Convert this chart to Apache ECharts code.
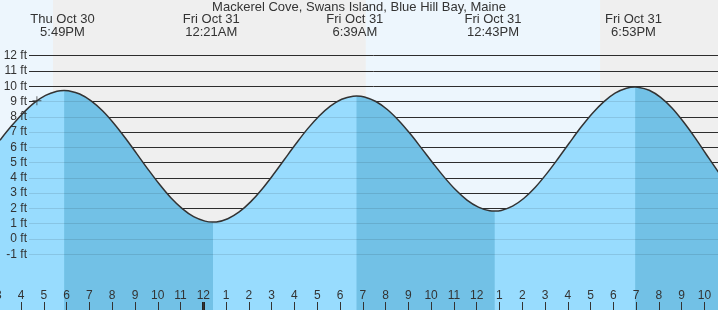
<!DOCTYPE html>
<html><head><meta charset="utf-8">
<script src="https://cdn.jsdelivr.net/npm/echarts@6/dist/echarts.min.js"></script>
<style>html,body{margin:0;padding:0;background:#efefef}#c{width:718px;height:310px}</style>
</head><body><div id="c"></div>
<script>
// ---- data (hours relative to Fri Oct 31 00:00) ----
const chartTitle = 'Mackerel Cove, Swans Island, Blue Hill Bay, Maine';
const sampleTimes = [-9,-8.5,-8,-7.5,-7,-6.5,-6,-5.5,-5,-4.5,-4,-3.5,-3,-2.5,-2,-1.5,-1,-0.5,
  0,0.5,1,1.5,2,2.5,3,3.5,4,4.5,5,5.5,6,6.5,7,7.5,8,8.5,9,9.5,10,10.5,11,11.5,12,12.5,
  13,13.5,14,14.5,15,15.5,16,16.5,17,17.5,18,18.5,19,19.5,20,20.5,21,21.5,22,22.5,23];
const sampleHeights = [6.47,7.39,8.22,8.91,9.40,9.67,9.70,9.49,9.04,8.39,7.56,6.61,5.59,4.56,3.58,2.70,1.99,1.46,
  1.17,1.12,1.33,1.77,2.43,3.26,4.22,5.24,6.25,7.21,8.04,8.70,9.15,9.35,9.30,9.00,8.48,7.76,6.90,5.95,4.98,4.05,3.22,2.55,2.09,1.85,
  1.87,2.15,2.67,3.39,4.28,5.27,6.30,7.31,8.22,8.98,9.55,9.87,9.94,9.74,9.27,8.57,7.67,6.65,5.55,4.46,3.43];
const extremeTimes = [-6.1833, 0.35, 6.65, 12.7167, 18.8833];
const extremeHeights = [9.72, 1.11, 9.36, 1.83, 9.95];
const extremeDays = ['Thu Oct 30', 'Fri Oct 31', 'Fri Oct 31', 'Fri Oct 31', 'Fri Oct 31'];
const extremeClock = ['5:49PM', '12:21AM', '6:39AM', '12:43PM', '6:53PM'];
const dayStarts = [-12, 7.133];
const dayEnds = [-6.6, 17.417];
const footLevels = [12, 11, 10, 9, 8, 7, 6, 5, 4, 3, 2, 1, 0, -1];
const nowTime = -7.38, nowHeight = 9.05;
const axisMin = -9, axisMax = 23;

// ---- build ----
const points = sampleTimes.map((t, i) => [t, sampleHeights[i]])
  .concat(extremeTimes.map((t, i) => [t, extremeHeights[i]]))
  .sort((a, b) => a[0] - b[0]);
const falling = [];
extremeTimes.forEach((t, i) => {
  const next = extremeTimes[i + 1];
  const isHigh = (i + 1 < extremeHeights.length) ? extremeHeights[i] > extremeHeights[i + 1] : extremeHeights[i] > extremeHeights[i - 1];
  if (isHigh) falling.push([t, next !== undefined ? next : axisMax]);
});
const inFalling = t => falling.some(s => t >= s[0] && t <= s[1]);
const darkPoints = points.map(p => inFalling(p[0]) ? p : [p[0], null]);

function hourLabel(v) {
  const h = ((Math.round(v) % 24) + 24) % 24;
  const h12 = h % 12 === 0 ? 12 : h % 12;
  return String(h12);
}
const FONT = 'Liberation Sans, Arial, sans-serif';
const SMOOTH = 0.35;
const lineMark = (color, width, z) => ({
  silent: true, z: z, symbol: ['none', 'none'], label: { show: false }, animation: false,
  lineStyle: { color: color, width: width, type: 'solid' },
  emphasis: { disabled: true }
});

const chart = echarts.init(document.getElementById('c'), null, { renderer: 'canvas' });
chart.setOption({
  backgroundColor: '#efefef',
  animation: false,
  textStyle: { fontFamily: FONT },
  title: {
    text: chartTitle, left: 'center', top: 1, padding: 0,
    textStyle: { fontSize: 13, fontWeight: 'normal', color: '#333', fontFamily: FONT }
  },
  grid: [
    { left: 0, right: -10.96, top: -5.43, bottom: -5.4, containLabel: false, outerBoundsMode: 'none' },
    { left: -1.7, right: -9.26, top: 0, bottom: 0, containLabel: false, outerBoundsMode: 'none' }
  ],
  xAxis: [
    { gridIndex: 0, type: 'value', min: axisMin, max: axisMax, show: false },
    { gridIndex: 1, type: 'value', min: axisMin, max: axisMax, interval: 1, z: 10,
      axisLine: { show: false }, splitLine: { show: false },
      axisTick: { show: true, inside: true, length: 8, lineStyle: { color: '#333', width: 1 } },
      axisLabel: { inside: true, margin: 8, fontSize: 12, color: '#333', fontFamily: FONT, formatter: hourLabel } }
  ],
  yAxis: [
    { gridIndex: 0, type: 'value', min: -5, max: 16, interval: 1, z: 10,
      axisLine: { show: false }, axisTick: { show: false }, splitLine: { show: false },
      axisLabel: { inside: true, align: 'right', margin: 27, fontSize: 12, color: '#333', fontFamily: FONT,
        formatter: v => (v >= -1 && v <= 12) ? v + ' ft' : '' } },
    { gridIndex: 1, type: 'value', min: 0, max: 1, show: false }
  ],
  series: [
    { type: 'line', xAxisIndex: 1, yAxisIndex: 1, data: [], z: 0, silent: true,
      markArea: { silent: true, z: 0, itemStyle: { color: '#edf6fd' },
        data: dayStarts.map((s, i) => [{ xAxis: s }, { xAxis: dayEnds[i] }]) } },
    { type: 'line', xAxisIndex: 0, yAxisIndex: 0, data: [], z: 1, silent: true,
      markLine: Object.assign(lineMark('#333', 1, 1), {
        data: footLevels.map(v => [{ x: 29, yAxis: v }, { x: 718, yAxis: v }]) }) },
    { type: 'line', xAxisIndex: 0, yAxisIndex: 0, data: points, z: 2, silent: true, smooth: SMOOTH,
      symbol: 'none', showSymbol: false, lineStyle: { width: 0 },
      areaStyle: { color: '#98dcfe', opacity: 1, origin: 'start' } },
    { type: 'line', xAxisIndex: 0, yAxisIndex: 0, data: darkPoints, z: 2, silent: true, smooth: SMOOTH,
      symbol: 'none', showSymbol: false, lineStyle: { width: 0 }, connectNulls: false,
      areaStyle: { color: '#72c1e6', opacity: 1, origin: 'start' } },
    { type: 'line', xAxisIndex: 0, yAxisIndex: 0, data: [], z: 3, silent: true,
      markLine: Object.assign(lineMark('rgba(0,0,0,0.1)', 1, 3), {
        data: footLevels.map(v => [{ x: 29, yAxis: v }, { x: 718, yAxis: v }]) }) },
    { type: 'line', xAxisIndex: 0, yAxisIndex: 0, data: points, z: 4, silent: true, smooth: SMOOTH,
      symbol: 'none', showSymbol: false, lineStyle: { color: '#333', width: 1.5 } },
    { type: 'scatter', xAxisIndex: 0, yAxisIndex: 0, data: [[nowTime, nowHeight]], z: 5, silent: true,
      symbol: 'path://M0,4.5H10V5.5H0Z M4.5,0H5.5V10H4.5Z', symbolSize: 9,
      itemStyle: { color: '#333' } },
    { type: 'line', xAxisIndex: 1, yAxisIndex: 1, data: [], z: 6, silent: true,
      markLine: Object.assign(lineMark('#222', 3, 6), {
        data: [[{ xAxis: 0, y: 302 }, { xAxis: 0, y: 310 }]] }),
      markPoint: { silent: true, z: 6, symbol: 'circle', symbolSize: 0, animation: false,
        label: { show: true, position: 'inside', fontSize: 13, lineHeight: 13, color: '#333', fontFamily: FONT },
        data: extremeTimes.map((t, i) => ({ xAxis: t, y: 26,
          label: { formatter: extremeDays[i] + '\n' + extremeClock[i] } })) } }
  ]
});
</script></body></html>
